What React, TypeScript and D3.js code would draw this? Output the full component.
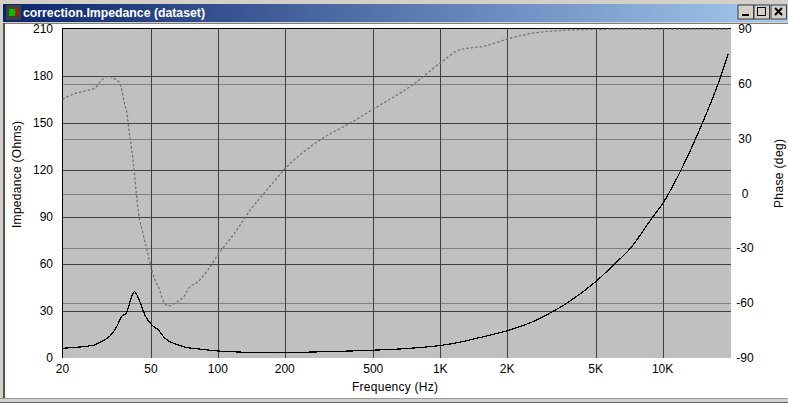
import React from "react";
import * as d3 from "d3";

const W = 788, H = 403;
const impF = [20,22,25,28,29.5,32.7,35.1,36.9,38.9,40.3,42.1,44.6,47,50.5,54,57.8,65.2,71,83,100,120,150,200,300,500,700,1000,1200,1500,2000,2610,3200,3700,5000,6080,7160,9030,10000,12100,15100,17870,19700];
const impV = [6.2,6.6,7.3,8.4,10,14,20,26.4,29,36,42.3,36,27.4,21,17.9,12.6,8.7,7,5.7,4.5,3.9,3.5,3.5,4,5,6,8,9.8,13,17.4,23.2,29.6,34.9,48.7,60,70,90,98.5,120,150,176,194];
const phF = [20,22,25,28,30,32,34,36,37,38,39,40,41,42,43,44,46,48,50,52,54,57,60,65,70,75,80,90,100,120,140,169,200,288,404,500,751,1000,1218,1616,2000,2700,3500,5000,10000,20000];
const phV = [51.5,54,56,57.7,62,64,63,61,56.6,49.5,44,33,24,13,0,-10.7,-21.6,-31,-40,-47,-51,-59,-61.5,-59.5,-56.6,-51,-49,-42,-33.6,-21,-9,3,13.4,29.3,39.3,46.2,59.4,71.4,78.5,80.9,84.5,88,89.2,89.8,90,90];
const xTicks = [20,50,100,200,500,1000,2000,5000,10000];
const xLabels = ["20","50","100","200","500","1K","2K","5K","10K"];
const zTicks = [0,30,60,90,120,150,180,210];
const pTicks = [-90,-60,-30,0,30,60,90];
const FONT = '"Liberation Sans", Arial, sans-serif';

export default function App() {
  const x = d3.scaleLog().domain([20, 20300]).range([62.4, 731]);
  const yZ = d3.scaleLinear().domain([0, 210]).range([358, 29]);
  const yP = d3.scaleLinear().domain([-90, 90]).range([358, 29]);
  const zLine = d3.line<number>().x((_, i) => x(impF[i])).y(d => yZ(d)).curve(d3.curveMonotoneX);
  const pLine = d3.line<number>().x((_, i) => x(phF[i])).y(d => yP(d)).curve(d3.curveMonotoneX);
  const snap = (v: number) => Math.round(v) + 0.5;
  return (
    <svg width={W} height={H} viewBox={`0 0 ${W} ${H}`} style={{ position: "absolute", left: 0, top: 0, display: "block" }} fontFamily={FONT}>
      <defs>
        <linearGradient id="tb" x1="0" x2="1" y1="0" y2="0">
          <stop offset="0" stopColor="#0a246a" />
          <stop offset="1" stopColor="#a6caf0" />
        </linearGradient>
      </defs>
      <rect width={W} height={H} fill="#d4d0c8" />
      <rect x={3} y={4} width={785} height={18} fill="url(#tb)" />
      <rect x={2} y={22} width={786} height={1} fill="#d4d0c8" />
      <rect x={3} y={23} width={785} height={1} fill="#808080" />
      <rect x={3} y={23} width={2} height={375} fill="#555" />
      <rect x={5} y={24} width={783} height={374} fill="#ffffff" />
      <rect x={0} y={402} width={W} height={1} fill="#666" />
      <rect x={0} y={398} width={W} height={1} fill="#999" />

      <rect x={6} y={5} width={15} height={15} fill="#404040" />
      <rect x={9} y={9} width={7} height={7} fill="#00c000" />
      <rect x={15} y={9} width={3} height={3} fill="#e00000" />
      <rect x={15} y={13} width={3} height={3} fill="#e00000" />
      <text x={23} y={17} fontSize={13} fontWeight={700} fill="#ffffff" textLength={182} lengthAdjust="spacingAndGlyphs">correction.Impedance (dataset)</text>

      {[{ l: 738, k: "min" }, { l: 754, k: "max" }, { l: 771, k: "close" }].map(b => (
        <g key={b.k}>
          <rect x={b.l} y={5} width={15.5} height={14} fill="#d4d0c8" stroke="#404040" strokeWidth={1} />
          {b.k === "min" && <rect x={b.l + 4} y={14} width={7} height={2} fill="#000" />}
          {b.k === "max" && <rect x={b.l + 3.5} y={7.5} width={8} height={8} fill="none" stroke="#000" />}
          {b.k === "close" && <path d={`M${b.l + 4} 8L${b.l + 11} 15M${b.l + 11} 8L${b.l + 4} 15`} stroke="#000" strokeWidth={2} />}
        </g>
      ))}

      <rect x={62} y={28} width={669.5} height={330} fill="#c0c0c0" />
      <g shapeRendering="crispEdges" fill="none">
        {pTicks.slice(1, -1).map(t => <line key={t} x1={62} x2={731} y1={snap(yP(t))} y2={snap(yP(t))} stroke="#808080" />)}
        {zTicks.slice(1, -1).map(t => <line key={t} x1={62} x2={731} y1={snap(yZ(t))} y2={snap(yZ(t))} stroke="#404040" />)}
        {xTicks.slice(1).map(t => <line key={t} x1={snap(x(t))} x2={snap(x(t))} y1={29} y2={358} stroke="#404040" />)}
        <path d={`M62 28.5H731.5`} stroke="#000" />
        <path d={`M62.5 28V358`} stroke="#000" />
        <path d={`M731.5 28V358.5H62`} stroke="#ffffff" />
      </g>

      <path d={pLine(phV)!} fill="none" stroke="#707070" strokeWidth={1.25} strokeDasharray="2.5 2" />
      <path d={zLine(impV)!} fill="none" stroke="#000000" strokeWidth={1.2} shapeRendering="crispEdges" />

      <g fontSize={12} fill="#000">
        {zTicks.map(t => <text key={t} x={53} y={yZ(t) + 4} textAnchor="end">{t}</text>)}
        {pTicks.map(t => <text key={t} x={745} y={yP(t) + 4} textAnchor="middle">{t}</text>)}
        {xTicks.map((t, i) => <text key={t} x={x(t)} y={373} textAnchor="middle">{xLabels[i]}</text>)}
        <text x={352} y={391} textLength={86} lengthAdjust="spacing">Frequency (Hz)</text>
        <text transform="translate(20.5,228) rotate(-90)" textLength={107} lengthAdjust="spacing">Impedance (Ohms)</text>
        <text transform="translate(783,208) rotate(-90)" textLength={69} lengthAdjust="spacing">Phase (deg)</text>
      </g>
    </svg>
  );
}
